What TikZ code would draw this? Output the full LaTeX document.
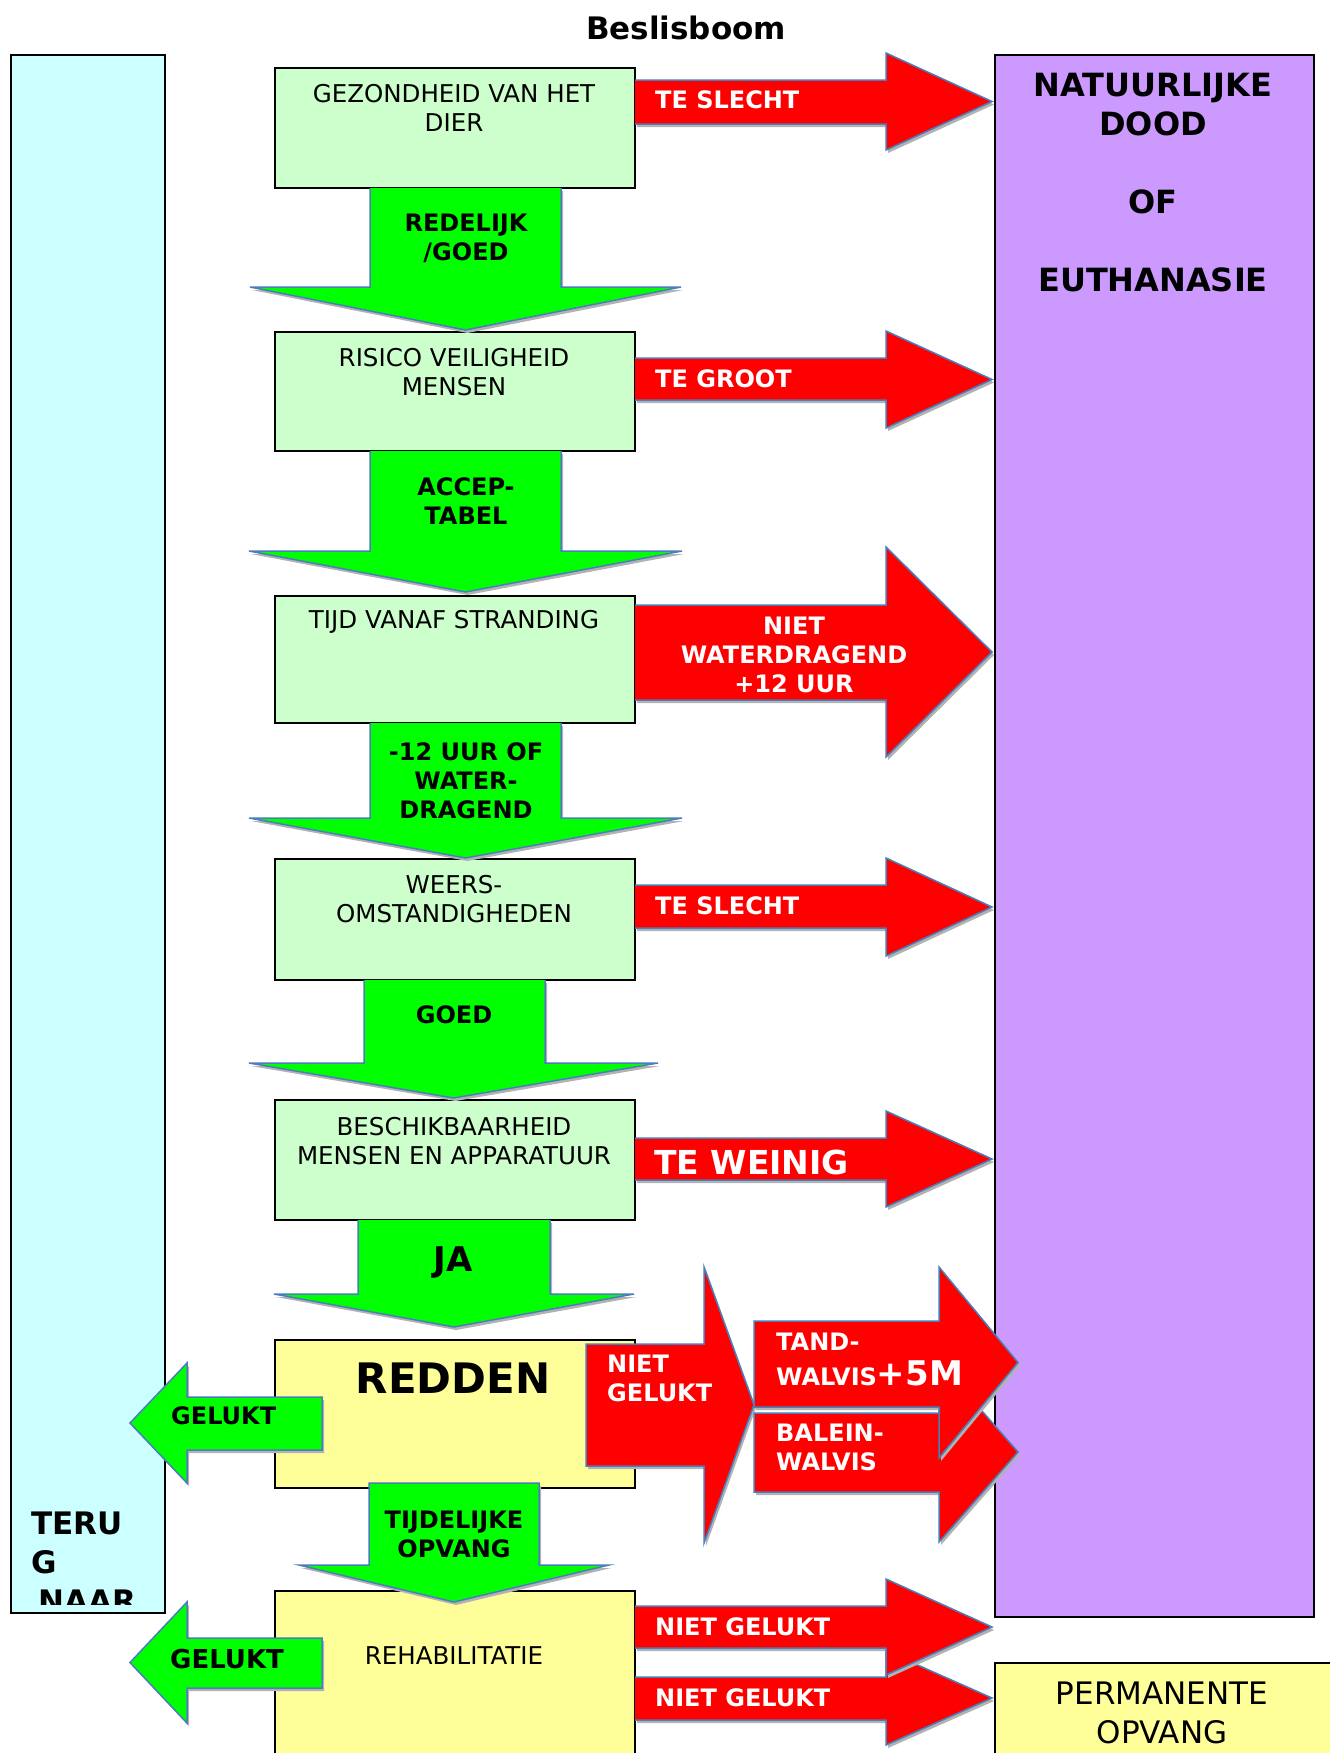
\documentclass[tikz,border=0pt]{standalone}
\usepackage{fontspec}
\setmainfont{DejaVu Sans}
\definecolor{boxg}{HTML}{CCFFCC}
\definecolor{boxy}{HTML}{FFFF99}
\definecolor{boxc}{HTML}{CCFFFF}
\definecolor{boxp}{HTML}{CC99FF}
\definecolor{arrg}{HTML}{00FF00}
\definecolor{arrr}{HTML}{FF0000}
\definecolor{edgeblue}{HTML}{4A7EBB}
\tikzset{
  box/.style={draw=black, line width=2pt, anchor=north west, inner sep=0pt},
  edgec/.style={draw=edgeblue, line width=1.5pt, line join=miter},
  shadowc/.style={fill=black!30},
  txt/.style={inner sep=0pt, align=center, font=\fontsize{24.5}{29}\selectfont},
  btxt/.style={inner sep=0pt, align=center, font=\fontsize{24}{29}\selectfont\bfseries},
  wtxt/.style={inner sep=0pt, text=white, font=\fontsize{24}{29}\selectfont\bfseries},
}
% right/left block arrow: #1 x start, #2 x head base, #3 x tip, #4/#5 shaft y, #6/#7 head y, #8 colour
\newcommand\HArrOpen[8]{%
  \fill[shadowc,shift={(2,3)}] (#1,#4) -- (#2,#4) -- (#2,#6) -- (#3,{(#6+#7)/2}) -- (#2,#7) -- (#2,#5) -- (#1,#5) -- cycle;
  \fill[#8] (#1,#4) -- (#2,#4) -- (#2,#6) -- (#3,{(#6+#7)/2}) -- (#2,#7) -- (#2,#5) -- (#1,#5) -- cycle;
  \draw[edgec] (#1,#4) -- (#2,#4) -- (#2,#6) -- (#3,{(#6+#7)/2}) -- (#2,#7) -- (#2,#5) -- (#1,#5);}
\newcommand\HArrClosed[8]{%
  \fill[shadowc,shift={(2,3)}] (#1,#4) -- (#2,#4) -- (#2,#6) -- (#3,{(#6+#7)/2}) -- (#2,#7) -- (#2,#5) -- (#1,#5) -- cycle;
  \fill[#8] (#1,#4) -- (#2,#4) -- (#2,#6) -- (#3,{(#6+#7)/2}) -- (#2,#7) -- (#2,#5) -- (#1,#5) -- cycle;
  \draw[edgec] (#1,#4) -- (#2,#4) -- (#2,#6) -- (#3,{(#6+#7)/2}) -- (#2,#7) -- (#2,#5) -- (#1,#5) -- cycle;}
% down block arrow: #1/#2 shaft x, #3 y start, #4 head base y, #5 tip y, #6/#7 head x
\newcommand\DArr[7]{%
  \fill[shadowc,shift={(2,3)}] (#1,#3) -- (#1,#4) -- (#6,#4) -- ({(#6+#7)/2},#5) -- (#7,#4) -- (#2,#4) -- (#2,#3) -- cycle;
  \fill[arrg] (#1,#3) -- (#1,#4) -- (#6,#4) -- ({(#6+#7)/2},#5) -- (#7,#4) -- (#2,#4) -- (#2,#3) -- cycle;
  \draw[edgec] (#1,#3) -- (#1,#4) -- (#6,#4) -- ({(#6+#7)/2},#5) -- (#7,#4) -- (#2,#4) -- (#2,#3);}
\newcommand\DArrClosed[7]{%
  \fill[shadowc,shift={(2,3)}] (#1,#3) -- (#1,#4) -- (#6,#4) -- ({(#6+#7)/2},#5) -- (#7,#4) -- (#2,#4) -- (#2,#3) -- cycle;
  \fill[arrg] (#1,#3) -- (#1,#4) -- (#6,#4) -- ({(#6+#7)/2},#5) -- (#7,#4) -- (#2,#4) -- (#2,#3) -- cycle;
  \draw[edgec] (#1,#3) -- (#1,#4) -- (#6,#4) -- ({(#6+#7)/2},#5) -- (#7,#4) -- (#2,#4) -- (#2,#3) -- cycle;}
\begin{document}
\begin{tikzpicture}[x=1pt,y=-1pt]
\clip (0,0) rectangle (1330,1753);
\fill[white] (0,0) rectangle (1330,1753);

% title
\node[inner sep=0pt, font=\fontsize{31}{36}\selectfont\bfseries] (title) at (686,28) {Beslisboom};

% side boxes
\node[box, fill=boxc, minimum width=154pt, minimum height=1558pt] (terugbox) at (10,54) {};
\node[box, fill=boxp, minimum width=319pt, minimum height=1562pt] (deathbox) at (994,54) {};
\node[box, fill=boxy, minimum width=340pt, minimum height=120pt] (permbox) at (994,1662) {};

% main boxes
\node[box, fill=boxg, minimum width=360pt, minimum height=120pt] (b1) at (274,67) {};
\node[box, fill=boxg, minimum width=360pt, minimum height=119pt] (b2) at (274,331) {};
\node[box, fill=boxg, minimum width=360pt, minimum height=127pt] (b3) at (274,595) {};
\node[box, fill=boxg, minimum width=360pt, minimum height=121pt] (b4) at (274,858) {};
\node[box, fill=boxg, minimum width=360pt, minimum height=120pt] (b5) at (274,1099) {};
\node[box, fill=boxy, minimum width=360pt, minimum height=148pt] (redden) at (274,1339) {};
\node[box, fill=boxy, minimum width=360pt, minimum height=200pt] (rehab) at (274,1590) {};

% red arrows to the right
\HArrOpen{635}{886}{992}{80}{124}{53}{150}{arrr}
\HArrOpen{635}{886}{992}{358}{400}{331}{428}{arrr}
\HArrOpen{635}{886}{992}{605}{700}{547}{757}{arrr}
\HArrOpen{635}{886}{992}{885}{928}{858}{956}{arrr}
\HArrOpen{635}{886}{992}{1138}{1180}{1111}{1207}{arrr}
\HArrClosed{586}{704}{754}{1344}{1466}{1267}{1543}{arrr}
\HArrClosed{754}{939}{1018}{1413}{1492}{1362}{1542}{arrr}
\HArrClosed{754}{939}{1018}{1321}{1407}{1267}{1458}{arrr}
\HArrOpen{635}{886}{992}{1677}{1720}{1651}{1745}{arrr}
\HArrOpen{635}{886}{992}{1606}{1648}{1579}{1675}{arrr}

% green arrows down
\DArr{370}{561}{188}{287}{330}{250}{681}
\DArr{370}{561}{451}{551}{592}{249}{682}
\DArr{370}{561}{723}{818}{858}{249}{682}
\DArr{364}{545}{980}{1063}{1098}{249}{658}
\DArr{358}{550}{1220}{1294}{1327}{274}{634}
\DArrClosed{369}{539}{1483}{1565}{1602}{299}{609}

% green arrows left
\HArrClosed{322}{187}{130}{1397}{1450}{1363}{1483}{arrg}
\HArrClosed{322}{187}{130}{1638}{1688}{1602}{1723}{arrg}

% box texts
\node[txt] (t1) at (454,107.5) {GEZONDHEID VAN HET\\DIER};
\node[txt] (t2) at (454,372.5) {RISICO VEILIGHEID\\MENSEN};
\node[txt] (t3) at (454,622) {TIJD VANAF STRANDING};
\node[txt] (t4) at (454,899.5) {WEERS-\\OMSTANDIGHEDEN};
\node[txt] (t5) at (454,1141) {BESCHIKBAARHEID\\MENSEN EN APPARATUUR};
\node[inner sep=0pt, font=\fontsize{42}{48}\selectfont\bfseries] (treddenl) at (453,1378) {REDDEN};
\node[txt] (trehab) at (454,1656) {REHABILITATIE};
\node[inner sep=0pt, align=center, font=\fontsize{31}{39}\selectfont] (tperm) at (1162,1712.5) {PERMANENTE\\OPVANG};

% side texts
\node[inner sep=0pt, align=center, font=\fontsize{32}{39}\selectfont\bfseries] (tdeath) at (1153,182.5) {NATUURLIJKE\\DOOD\\[39pt]OF\\[39pt]EUTHANASIE};
\begin{scope}
\clip (11,55) rectangle (163,1604);
\node[inner sep=0pt, align=left, anchor=north west, font=\fontsize{31}{39}\selectfont\bfseries] (tterug) at (31,1512) {TERU\\G\\\hspace*{7pt}NAAR};
\end{scope}

% green arrow labels
\node[btxt] (g1) at (466,238) {REDELIJK\\/GOED};
\node[btxt] (g2) at (466,501.5) {ACCEP-\\TABEL};
\node[btxt] (g3) at (466,780.5) {-12 UUR OF\\WATER-\\DRAGEND};
\node[btxt] (g4) at (454,1015) {GOED};
\node[inner sep=0pt, font=\fontsize{34}{38}\selectfont\bfseries] (g5) at (453,1262) {JA};
\node[btxt] (g6) at (454,1534) {TIJDELIJKE\\OPVANG};
\node[btxt, anchor=west] (g7) at (171,1416) {GELUKT};
\node[inner sep=0pt, anchor=west, font=\fontsize{26}{30}\selectfont\bfseries] (g8) at (170,1659) {GELUKT};

% red arrow labels
\node[wtxt, anchor=west] (r1) at (655,100) {TE SLECHT};
\node[wtxt, anchor=west] (r2) at (655,379) {TE GROOT};
\node[wtxt, align=center] (r3) at (794,654.5) {NIET\\WATERDRAGEND\\+12 UUR};
\node[wtxt, anchor=west] (r4) at (655,906) {TE SLECHT};
\node[inner sep=0pt, text=white, anchor=west, font=\fontsize{33}{36}\selectfont\bfseries] (r5) at (654,1162) {TE WEINIG};
\node[wtxt, align=left, anchor=west] (r6) at (607,1378.5) {NIET\\GELUKT};
\node[wtxt, align=left, anchor=north west] (r7) at (776,1333) {TAND-\\[6pt]WALVIS{\fontsize{34}{38}\selectfont+5M}};
\node[wtxt, align=left, anchor=west] (r8) at (776,1447.5) {BALEIN-\\WALVIS};
\node[wtxt, anchor=west] (r9) at (655,1627) {NIET GELUKT};
\node[wtxt, anchor=west] (r10) at (655,1698) {NIET GELUKT};
\end{tikzpicture}
\end{document}
